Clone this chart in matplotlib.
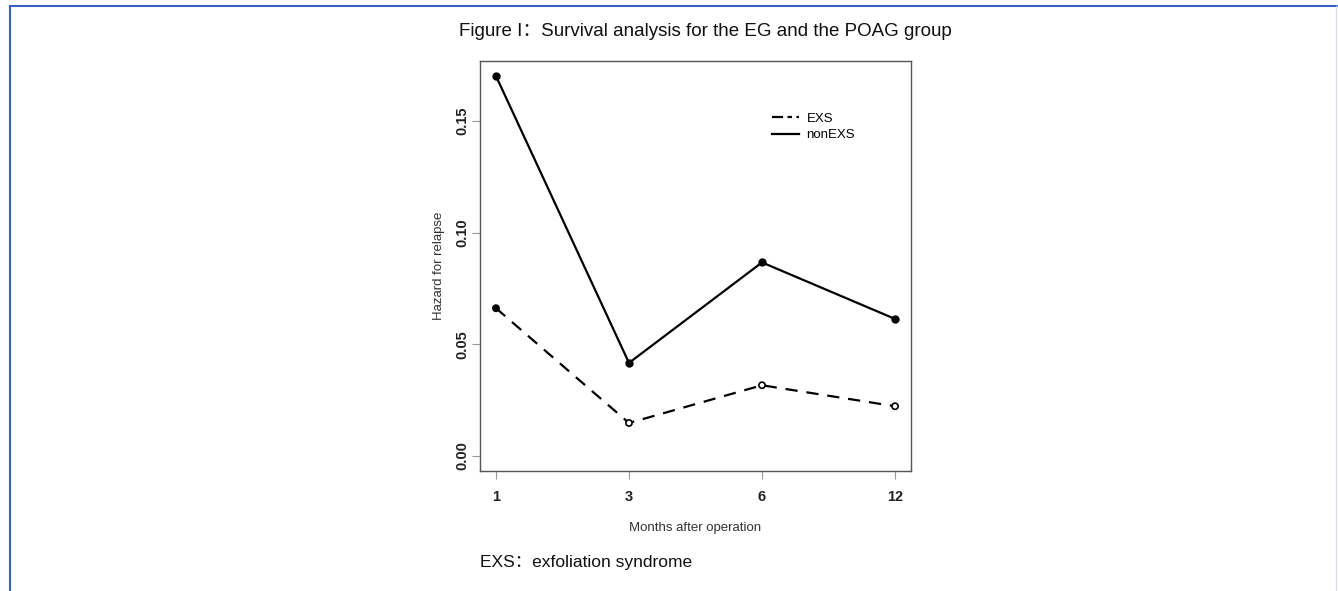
import numpy as np
import matplotlib.pyplot as plt
from matplotlib.lines import Line2D

# data
months = ['1', '3', '6', '12']
exs = [0.0661, 0.0147, 0.0316, 0.0222]
non_exs = [0.1701, 0.0416, 0.0866, 0.0613]
exs_filled = [True, False, False, False]
y_ticks = [0.00, 0.05, 0.10, 0.15]

plt.rcParams['font.family'] = ['Liberation Sans', 'Noto Sans CJK SC', 'DejaVu Sans']

fig = plt.figure(figsize=(13.38, 5.91), dpi=100)
W, H = 1338, 591

# blue page frame (top and left) and faint right edge
fig.add_artist(Line2D([10 / W, 10 / W], [0, 1 - 6 / H], color='#3a5fc0', lw=1.5))
fig.add_artist(Line2D([10 / W, 1], [1 - 6 / H, 1 - 6 / H], color='#3a5fc0', lw=1.5))
fig.add_artist(Line2D([1336 / W, 1336 / W], [0, 1 - 6 / H], color='#dcdce6', lw=1))

ax = fig.add_axes([480 / W, 1 - 471 / H, 431 / W, 410 / H])

x = np.arange(1, len(months) + 1)
ax.plot(x, non_exs, color='black', lw=1.6, marker='o', ms=5, zorder=3)
ax.plot(x, exs, color='black', lw=1.6, ls=(0, (5.5, 4)), zorder=2)
fc = ['black' if f else 'white' for f in exs_filled]
ax.scatter(x, exs, s=20, facecolors=fc, edgecolors='black', linewidths=1.2, zorder=4)

ax.set_xlim(1 - 0.12, len(months) + 0.12)
ax.set_ylim(-0.0068, 0.1768)
ax.set_xticks(x)
ax.set_xticklabels(months, fontsize=10.5, fontweight='bold', color='#222222')
ax.set_yticks(y_ticks)
ax.set_yticklabels(['%.2f' % v for v in y_ticks], fontsize=10.5, fontweight='bold',
                   color='#222222', rotation=90, va='center')
ax.tick_params(direction='out', length=6, width=0.8, color='#999999')
ax.tick_params(axis='x', pad=8)
ax.tick_params(axis='y', pad=2)
for s in ax.spines.values():
    s.set_color('#555555')
    s.set_linewidth(1.0)

ax.set_xlabel('Months after operation', fontsize=9.5, color='#333333', labelpad=13)
ax.set_ylabel('Hazard for relapse', fontsize=9.5, color='#333333', labelpad=7)

handles = [Line2D([], [], color='black', lw=1.6, ls=(0, (5, 2, 2, 2))),
           Line2D([], [], color='black', lw=1.6)]
ax.legend(handles, ['EXS', 'nonEXS'], loc='upper left', bbox_to_anchor=(0.663, 0.89),
          frameon=False, fontsize=9.5, handlelength=2.0, handletextpad=0.6,
          labelspacing=0.3, borderpad=0)

fig.text(705 / W, 1 - 31 / H, 'Figure I：Survival analysis for the EG and the POAG group',
         ha='center', va='center', fontsize=13.5, color='#111111')
fig.text(480 / W, 1 - 563 / H, 'EXS：exfoliation syndrome',
         ha='left', va='center', fontsize=12.5, color='#111111')

fig.savefig('out.png', dpi=100)
